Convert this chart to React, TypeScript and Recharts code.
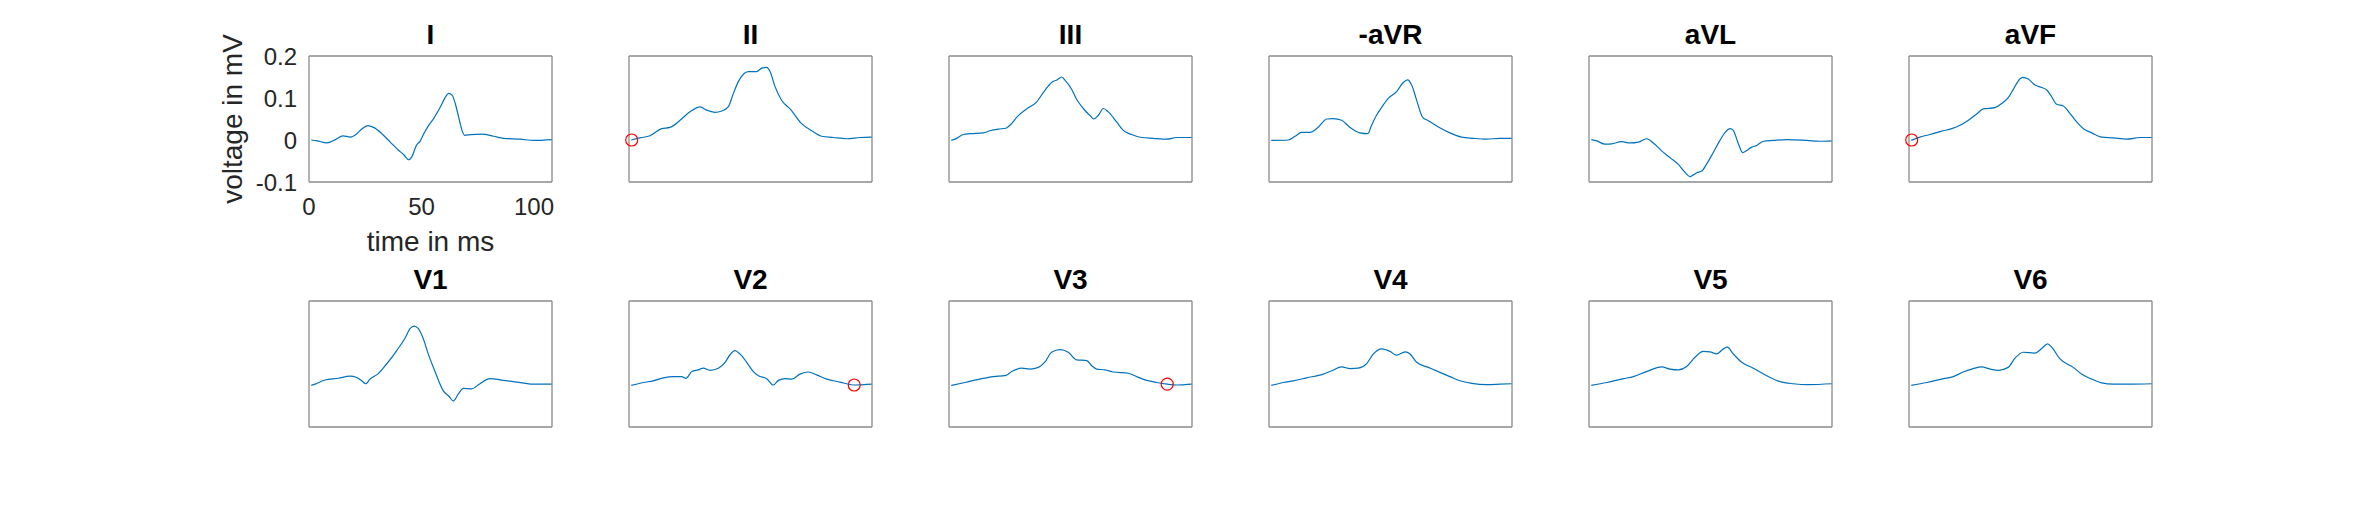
import { ComposedChart, Line, ReferenceDot, XAxis, YAxis } from "recharts";

type Sample = [number, number];

const TIME_TICKS = [0, 50, 100];
const VOLT_TICKS = [-0.1, 0, 0.1, 0.2];

const leadTitles = ["I", "II", "III", "-aVR", "aVL", "aVF", "V1", "V2", "V3", "V4", "V5", "V6"];

// [time in ms, voltage in mV]
const leadI: Sample[] = [
  [1, 0], [3.6, -0.002], [8, -0.007], [11.7, 0.001], [15.1, 0.01], [18.4, 0.007], [21.3, 0.015],
  [23.6, 0.027], [26.1, 0.034], [28.7, 0.03], [32.4, 0.015], [36.1, -0.005], [39.9, -0.025],
  [42.1, -0.035], [44.3, -0.047], [45.8, -0.039], [47.7, -0.013], [49.5, -0.002], [51, 0.015],
  [53.2, 0.035], [55.4, 0.051], [58.4, 0.079], [60.3, 0.099], [62.1, 0.111], [63.6, 0.107],
  [65, 0.087], [66.5, 0.055], [68, 0.023], [69.2, 0.011], [71.7, 0.013], [76.9, 0.014], [82, 0.009],
  [86.5, 0.004], [93.9, 0.002], [99.9, -0.001], [108, 0.001],
];
const leadII: Sample[] = [
  [1, 0], [4.9, 0.005], [9.3, 0.01], [14.5, 0.027], [18.2, 0.03], [22.7, 0.047], [27.1, 0.067],
  [31.6, 0.079], [34.5, 0.071], [38.2, 0.066], [41.2, 0.069], [44.1, 0.079], [46.4, 0.111],
  [48.6, 0.139], [53, 0.163], [56.7, 0.163], [59, 0.171], [61.2, 0.173], [62.7, 0.163], [64.9, 0.127],
  [67.9, 0.094], [71.6, 0.074], [76.7, 0.039], [81.2, 0.022], [85.6, 0.009], [90.8, 0.006],
  [96.7, 0.003], [102.7, 0.006], [108, 0.007],
];
const leadIII: Sample[] = [
  [1, -0.001], [2.7, 0.002], [6.4, 0.013], [9.3, 0.015], [15.3, 0.017], [18.2, 0.022], [22, 0.026],
  [25.3, 0.028], [27.1, 0.035], [30.8, 0.058], [34.5, 0.074], [39, 0.091], [42.7, 0.119],
  [45.6, 0.137], [47.9, 0.143], [50.1, 0.15], [51.6, 0.142], [54.5, 0.121], [56.7, 0.097],
  [59.7, 0.075], [62.7, 0.058], [64.4, 0.05], [66.4, 0.059], [68.6, 0.075], [70.8, 0.067],
  [74.5, 0.043], [77.5, 0.023], [81.2, 0.013], [85.6, 0.006], [90.8, 0.004], [96.7, 0.002],
  [101.2, 0.006], [108, 0.006],
];
const leadNegAVR: Sample[] = [
  [1, -0.001], [8.6, 0], [11.6, 0.009], [14.5, 0.018], [18.2, 0.018], [22, 0.031], [25.6, 0.05],
  [28.6, 0.051], [32.3, 0.047], [36, 0.03], [40.4, 0.017], [43.9, 0.015], [45.6, 0.035],
  [47.6, 0.057], [50.1, 0.078], [53, 0.099], [56.7, 0.115], [59.7, 0.137], [61.6, 0.143],
  [63.4, 0.131], [65.6, 0.095], [68.3, 0.054], [70.8, 0.046], [75.3, 0.031], [80.4, 0.017],
  [85.6, 0.007], [90.8, 0.004], [96.7, 0.002], [102.7, 0.004], [108, 0.004],
];
const leadAVL: Sample[] = [
  [1, 0.001], [3.4, -0.002], [7.1, -0.01], [10.1, -0.009], [14.5, -0.004], [18.2, -0.007],
  [22, -0.005], [25.6, 0.003], [28.6, -0.007], [32.3, -0.026], [36, -0.042], [39.7, -0.058],
  [42.7, -0.077], [44.9, -0.087], [46.4, -0.083], [47.9, -0.078], [50.1, -0.074], [52.3, -0.057],
  [55.3, -0.029], [58.2, -0.001], [60.5, 0.018], [62.7, 0.027], [64.1, 0.023], [66.4, -0.009],
  [68.3, -0.03], [70.1, -0.025], [72.3, -0.017], [74.5, -0.013], [77.5, -0.003], [81.9, -0.001],
  [87.9, 0.001], [96.7, -0.001], [102.7, -0.003], [108, -0.002],
];
const leadAVF: Sample[] = [
  [1, -0.001], [4.9, 0.007], [9.3, 0.013], [14.5, 0.021], [19, 0.027], [22.7, 0.035], [26.4, 0.047],
  [30.1, 0.062], [33, 0.074], [38.2, 0.077], [41.2, 0.087], [44.1, 0.101], [46.4, 0.121],
  [48.6, 0.141], [50.5, 0.149], [53, 0.145], [56, 0.131], [59, 0.125], [61.2, 0.119], [63.4, 0.103],
  [65.6, 0.085], [68.6, 0.081], [71.6, 0.063], [74.5, 0.043], [77.5, 0.027], [81.2, 0.017],
  [85.6, 0.007], [90.8, 0.005], [96.7, 0.002], [102.7, 0.006], [108, 0.006],
];
const leadV1: Sample[] = [
  [1, -0.001], [2.7, 0.002], [7.1, 0.012], [13, 0.016], [18.2, 0.021], [21.2, 0.018], [23.4, 0.01],
  [25.3, 0.003], [27.1, 0.014], [30.8, 0.027], [34.5, 0.05], [39, 0.082], [42.7, 0.112],
  [44.9, 0.134], [46.7, 0.14], [48.6, 0.134], [50.8, 0.11], [53, 0.074], [56, 0.032], [59.7, -0.014],
  [62.4, -0.028], [64.1, -0.038], [66.4, -0.021], [68.6, -0.008], [72.3, -0.009], [76, 0.003],
  [80.4, 0.015], [86.4, 0.011], [92.3, 0.007], [99.7, 0.002], [108, 0.002],
];
const leadV2: Sample[] = [
  [1, -0.001], [6.4, 0.006], [10.8, 0.01], [15.3, 0.017], [19.7, 0.02], [23.4, 0.02], [25.3, 0.016],
  [27.9, 0.032], [30.8, 0.036], [33, 0.04], [36, 0.035], [39.7, 0.04], [42.7, 0.054], [44.9, 0.072],
  [47.1, 0.082], [49.3, 0.074], [52.3, 0.054], [55.3, 0.032], [57.5, 0.022], [61.2, 0.015],
  [64.1, 0], [66.4, 0.011], [69.3, 0.015], [72.3, 0.014], [76, 0.026], [79.7, 0.031], [83.4, 0.024],
  [87.9, 0.014], [93.8, 0.007], [100.1, 0], [108, 0.002],
];
const leadV3: Sample[] = [
  [1, -0.001], [7.1, 0.006], [14.5, 0.015], [19.7, 0.02], [25.3, 0.023], [27.9, 0.032], [32.3, 0.04],
  [36, 0.038], [39.7, 0.042], [42.7, 0.055], [45.6, 0.078], [49.3, 0.084], [53, 0.078], [56.7, 0.06],
  [61.2, 0.058], [63.4, 0.046], [65.6, 0.038], [69.3, 0.036], [73, 0.031], [79.7, 0.028],
  [83.4, 0.02], [87.9, 0.011], [92.3, 0.006], [97, 0.002], [101.2, 0], [108, 0.002],
];
const leadV4: Sample[] = [
  [1, -0.001], [6.4, 0.006], [10.8, 0.01], [16.7, 0.017], [24.1, 0.026], [27.9, 0.034], [32.3, 0.043],
  [36, 0.039], [39.7, 0.04], [43.4, 0.051], [46.4, 0.074], [50.1, 0.086], [53.8, 0.08], [56.7, 0.071],
  [60.5, 0.079], [62.7, 0.074], [65.6, 0.054], [70.8, 0.042], [76, 0.03], [80.4, 0.02], [84.9, 0.01],
  [90.1, 0.004], [96.7, 0.001], [102.7, 0.002], [108, 0.003],
];
const leadV5: Sample[] = [
  [1, -0.001], [7.9, 0.006], [15.3, 0.015], [19.7, 0.02], [25.6, 0.032], [32.3, 0.043], [36, 0.038],
  [39.7, 0.036], [43.4, 0.044], [47.1, 0.066], [50.8, 0.08], [53.8, 0.079], [56.7, 0.074],
  [59.7, 0.086], [61.5, 0.09], [64.1, 0.074], [67.9, 0.054], [73, 0.04], [79, 0.022], [84.9, 0.008],
  [90.8, 0.003], [97.5, 0.001], [108, 0.003],
];
const leadV6: Sample[] = [
  [1, -0.001], [7.9, 0.006], [15.3, 0.015], [19.7, 0.02], [24.1, 0.031], [28.6, 0.039], [32.3, 0.043],
  [36, 0.038], [39.7, 0.035], [44.1, 0.042], [47.1, 0.064], [50.8, 0.078], [56, 0.076], [59, 0.087],
  [61.6, 0.098], [63.4, 0.09], [67.1, 0.062], [73, 0.042], [76.7, 0.026], [81.2, 0.014],
  [85.6, 0.005], [90.8, 0.002], [97.5, 0.002], [108, 0.003],
];

const leadSeries = [
  leadI, leadII, leadIII, leadNegAVR, leadAVL, leadAVF,
  leadV1, leadV2, leadV3, leadV4, leadV5, leadV6,
];

// red circles marking picked samples
const markers: { lead: string; t: number; v: number }[] = [
  { lead: "II", t: 1.2, v: 0 },
  { lead: "aVF", t: 1.2, v: 0 },
  { lead: "V2", t: 100.1, v: 0 },
  { lead: "V3", t: 97, v: 0.002 },
];

const FONT = '"Liberation Sans", Arial, Helvetica, sans-serif';
const TEXT = "#262626";
const FRAME = "#8a8a8a";
const BLUE = "#0072BD";

const BOX_W = 243;
const BOX_H = 126;
const COL_X = [309, 629, 949, 1269, 1589, 1909];
const ROW_Y = [56, 301];
const ML = 110;
const MR = 12;
const MT = 12;
const MB = 80;
const Y_W = 70;
const X_H = 40;

function LeadPanel({ index }: { index: number }) {
  const title = leadTitles[index];
  const rows = leadSeries[index].map(([t, v]) => ({ t, v }));
  const first = index === 0;
  const left = COL_X[index % 6];
  const top = ROW_Y[Math.floor(index / 6)];
  const frameLine = { stroke: FRAME, strokeWidth: 1.3 };
  const innerTick = first ? { stroke: FRAME, strokeWidth: 1.3 } : false;

  return (
    <>
      <div
        style={{
          position: "absolute",
          left,
          top: top - 11 - 0.8465 * 28,
          width: BOX_W,
          textAlign: "center",
          fontSize: 28,
          lineHeight: "28px",
          fontWeight: "bold",
          color: "#000",
        }}
      >
        {title}
      </div>
      <div style={{ position: "absolute", left: left - ML, top: top - MT }}>
        <ComposedChart
          width={BOX_W + ML + MR}
          height={BOX_H + MT + MB}
          margin={{ top: MT, right: MR, left: first ? ML - Y_W : ML, bottom: first ? MB - X_H : MB }}
        >
          <XAxis
            xAxisId="main"
            dataKey="t"
            type="number"
            domain={[0, 108]}
            allowDataOverflow
            ticks={TIME_TICKS}
            interval={0}
            hide={!first}
            height={X_H}
            axisLine={false}
            tickLine={false}
            tickSize={6}
            tickMargin={10}
            tick={{ fontSize: 24, fill: TEXT, fontFamily: FONT }}
          />
          <YAxis
            yAxisId="main"
            type="number"
            domain={[-0.1, 0.2]}
            allowDataOverflow
            ticks={VOLT_TICKS}
            interval={0}
            hide={!first}
            width={Y_W}
            axisLine={false}
            tickLine={false}
            tickSize={6}
            tickMargin={6}
            tick={{ fontSize: 24, fill: TEXT, fontFamily: FONT }}
          />
          <XAxis xAxisId="bottomFrame" orientation="bottom" mirror type="number" domain={[0, 108]} allowDataOverflow ticks={TIME_TICKS} interval={0} tick={false} tickSize={4} tickLine={innerTick} axisLine={frameLine} />
          <XAxis xAxisId="topFrame" orientation="top" mirror type="number" domain={[0, 108]} allowDataOverflow ticks={TIME_TICKS} interval={0} tick={false} tickSize={4} tickLine={innerTick} axisLine={frameLine} />
          <YAxis yAxisId="leftFrame" orientation="left" mirror type="number" domain={[-0.1, 0.2]} allowDataOverflow ticks={VOLT_TICKS} interval={0} tick={false} tickSize={4} tickLine={innerTick} axisLine={frameLine} />
          <YAxis yAxisId="rightFrame" orientation="right" mirror type="number" domain={[-0.1, 0.2]} allowDataOverflow ticks={VOLT_TICKS} interval={0} tick={false} tickSize={4} tickLine={innerTick} axisLine={frameLine} />
          <Line
            xAxisId="main"
            yAxisId="main"
            data={rows}
            dataKey="v"
            type="monotone"
            stroke={BLUE}
            strokeWidth={1.2}
            dot={false}
            activeDot={false}
            isAnimationActive={false}
          />
          {markers
            .filter((m) => m.lead === title)
            .map((m) => (
              <ReferenceDot
                key={`${m.lead}-${m.t}`}
                xAxisId="main"
                yAxisId="main"
                x={m.t}
                y={m.v}
                r={6}
                fill="none"
                stroke="#FF0000"
                strokeWidth={1.2}
              />
            ))}
        </ComposedChart>
      </div>
    </>
  );
}

export default function App() {
  return (
    <div
      style={{
        position: "absolute",
        left: 0,
        top: 0,
        width: 2378,
        height: 516,
        background: "#fff",
        overflow: "hidden",
        fontFamily: FONT,
      }}
    >
      {leadTitles.map((_, i) => (
        <LeadPanel key={leadTitles[i]} index={i} />
      ))}
      <div
        style={{
          position: "absolute",
          left: COL_X[0],
          top: 252 - 0.8465 * 28,
          width: BOX_W,
          textAlign: "center",
          fontSize: 28,
          lineHeight: "28px",
          color: TEXT,
        }}
      >
        time in ms
      </div>
      <div
        style={{
          position: "absolute",
          left: 233 - 150,
          top: ROW_Y[0] + BOX_H / 2 - 14,
          width: 300,
          height: 28,
          textAlign: "center",
          fontSize: 28,
          lineHeight: "28px",
          color: TEXT,
          transform: "rotate(-90deg)",
        }}
      >
        voltage in mV
      </div>
    </div>
  );
}
